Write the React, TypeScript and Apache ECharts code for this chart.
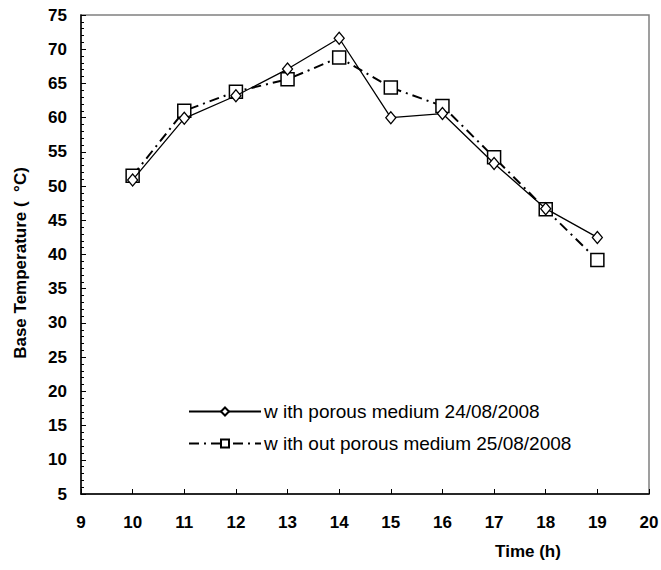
import React, { useEffect, useRef } from "react";
import * as echarts from "echarts";

const hours = [10, 11, 12, 13, 14, 15, 16, 17, 18, 19];
const withPorous = [50.9, 59.9, 63.2, 67.1, 71.6, 60.0, 60.6, 53.3, 46.7, 42.5];
const withoutPorous = [51.5, 61.0, 63.8, 65.6, 68.8, 64.4, 61.7, 54.2, 46.6, 39.2];
const seriesNames = ["w ith porous medium 24/08/2008", "w ith out porous medium 25/08/2008"];
const xTitle = "Time (h)";
const yTitle = "Base Temperature (  \u00B0C)";

export default function App() {
  const ref = useRef<HTMLDivElement>(null);
  useEffect(() => {
    if (!ref.current) return;
    const chart = echarts.init(ref.current, null, { renderer: "svg" });
    const font = "'Liberation Sans', Arial, sans-serif";
    chart.setOption({
      animation: false,
      backgroundColor: "#ffffff",
      grid: {
        left: 81,
        top: 15,
        right: 12,
        bottom: 76,
        outerBoundsMode: "none",
        containLabel: false,
        show: true,
        borderColor: "#808080",
        borderWidth: 1.5,
        backgroundColor: "transparent",
      },
      graphic: [
        {
          type: "text",
          x: 528,
          y: 551,
          style: {
            text: xTitle,
            fontFamily: font,
            fontWeight: "bold",
            fontSize: 17,
            fill: "#000",
            align: "center",
            verticalAlign: "middle",
          },
        },
        {
          type: "text",
          x: 20,
          y: 263,
          rotation: Math.PI / 2,
          style: {
            text: yTitle,
            fontFamily: font,
            fontWeight: "bold",
            fontSize: 17,
            fill: "#000",
            align: "center",
            verticalAlign: "middle",
          },
        },
      ],
      legend: {
        orient: "vertical",
        left: 183,
        top: 397,
        itemWidth: 72,
        itemHeight: 10,
        itemGap: 13,
        textStyle: { fontFamily: font, fontSize: 19, color: "#000", padding: [0, 0, 0, -2] },
        data: seriesNames,
      },
      xAxis: {
        type: "value",
        min: 9,
        max: 20,
        interval: 1,
        axisLine: { show: true, onZero: false, lineStyle: { color: "#000", width: 1.5 } },
        axisTick: { show: true, inside: true, length: 5, lineStyle: { color: "#000", width: 1 } },
        axisLabel: { margin: 20, fontFamily: font, fontWeight: "bold", fontSize: 17, color: "#000", showMaxLabel: true },
        splitLine: { show: false },
      },
      yAxis: {
        type: "value",
        min: 5,
        max: 75,
        interval: 5,
        axisLine: { show: true, onZero: false, lineStyle: { color: "#000", width: 1.5 } },
        axisTick: { show: true, inside: true, length: 5, lineStyle: { color: "#000", width: 1 } },
        minorTick: { show: true, splitNumber: 5, length: 3, lineStyle: { color: "#000", width: 1 } },
        axisLabel: { margin: 14, fontFamily: font, fontWeight: "bold", fontSize: 17, color: "#000" },
        splitLine: { show: false },
      },
      series: [
        {
          name: seriesNames[0],
          type: "line",
          z: 5,
          data: hours.map((h, i) => [h, withPorous[i]]),
          symbol: "diamond",
          symbolSize: [10, 12],
          lineStyle: { color: "#000", width: 1.3, type: "solid" },
          itemStyle: { color: "#fff", borderColor: "#000", borderWidth: 1.3 },
        },
        {
          name: seriesNames[1],
          type: "line",
          z: 3,
          data: hours.map((h, i) => [h, withoutPorous[i]]),
          symbol: "rect",
          symbolSize: 13,
          lineStyle: { color: "#000", width: 2, type: [10, 5, 2, 5] },
          itemStyle: { color: "#fff", borderColor: "#000", borderWidth: 1.5 },
        },
      ],
    });
    return () => chart.dispose();
  }, []);
  return <div ref={ref} style={{ position: "absolute", left: 0, top: 0, width: 661, height: 570 }} />;
}
